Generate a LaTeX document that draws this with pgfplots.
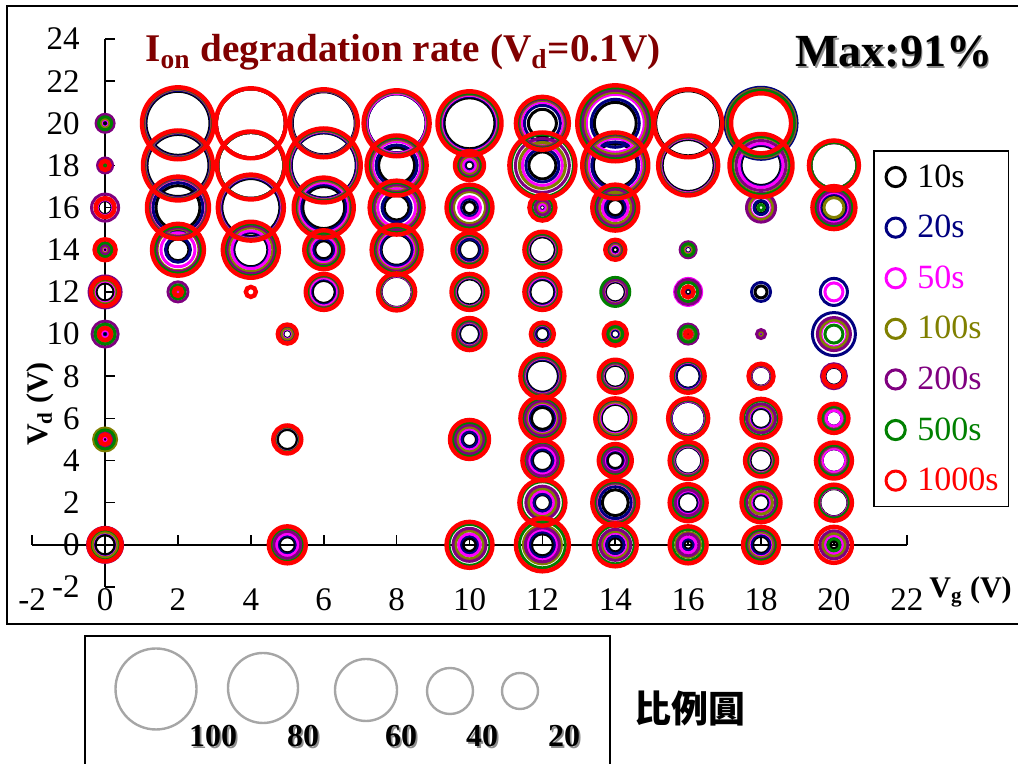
\documentclass[border=0pt]{standalone}
\usepackage{pgfplots}
\pgfplotsset{compat=1.18}
\usepackage{pgfplotstable}
\usepackage{fontspec}
\setmainfont{Liberation Serif}
\newfontfamily\cjk{Noto Sans CJK TC}
\definecolor{cnavy}{RGB}{0,0,128}
\definecolor{cmag}{RGB}{255,0,255}
\definecolor{colive}{RGB}{128,128,0}
\definecolor{cpurp}{RGB}{128,0,128}
\definecolor{cgreen}{RGB}{0,128,0}
\definecolor{cred}{RGB}{255,0,0}
\definecolor{maroon}{RGB}{128,0,0}

% ring radii (px) for 10s(a) 20s(b) 50s(c) 100s(d) 200s(e) 500s(f) 1000s(g)
\pgfplotstableread{
x y a b c d e f g
0 20 3 3.5 4 5 9 6.5 0
0 18 1 1 1 1.5 7.5 2 4.5
0 16 7 8 8 9 13.5 9 9.5
0 14 2 3 3 4 5 7 10.5
0 12 9 11 11 12 16 13 14
0 10 2 3 4 8 13 10 6
0 5 2 3 3 11.5 8 9.5 5
0 0 10 12 12.5 13 17.5 15 16.5
2 20 32 33 34 34 34.5 35 36
2 18 31 32 33 33 33.5 34 35
2 16 22 25 28 28.5 29 30 31
2 14 11 12.5 17 21 22 23.5 26
2 12 1 1.5 2 3 10 7 4
4 20 34.5 34.5 34.5 34.5 34.5 34.5 35
4 18 33 33 33 33 33 33 34
4 16 29 30 31 31.5 32 32.5 33
4 14 17 18 19 22 24 26 28
4 12 0 0 0 0 0 0 5
5 10 4.5 5 5.5 6 8 8.5 9.5
5 5 10 12 12.5 12.5 13 13 14
5 0 8 9.5 11 15 13.5 16.5 18.5
6 20 31.5 32 32.5 32.5 32.5 33 34
6 18 32.5 33 34 34.5 35 35.5 37
6 16 21 23 25 27 28 28.5 30
6 14 9 11 13 15 16 17 19.5
6 12 11.5 13 14 15.5 16 16.5 18
8 20 29.5 29.5 30 31 31.5 32 33
8 18 18 20.5 24 26 27 28 30
8 16 12.5 14.5 19 22 23 25 27
8 14 15.5 16.5 18.5 20 21.5 23 25
8 12 15.5 16 16 16.5 16.5 17 18.5
10 20 25.5 27 28 29 29.5 30 32
10 18 4.5 5.5 6.5 9 11 12.5 14.5
10 16 6 9 11 16 18 20.5 23
10 14 10 11 13.5 14 14.5 15 17
10 12 13 14 14.5 15 15.5 16 18
10 10 10 11 12 12.5 13 14 16
10 5 7 8 10.5 12.5 14.5 17 19.5
10 0 6.5 9 11 14 16.5 20.5 23
12 20 14 18 21 23 24 25 26.5
12 18 13.5 16.5 20 23 27 31 33
12 16 3 3.5 4 6 7.5 10.5 13
12 14 13 14 14.5 15 15.5 16 18
12 12 12.5 13.5 14.5 15.5 16 16.5 18
12 10 6.5 7.5 9 9.5 9.5 10 11.5
12 8 16 17 18 18.5 19 20 22
12 6 11 13.5 15 16 17.5 20 22
12 4 10 11.5 13.5 17.5 15.5 18.5 20
12 2 8 9 11.5 14 16.5 21 23
12 0 11 13 15 19 17 23 26.5
14 20 21 24 29 31 33 35.5 38
14 18 22 23.5 27 29 30.5 31.5 33
14 16 8 10.5 13 16 18.5 21 23
14 14 3 4.5 5.5 6.5 7.5 8.5 10
14 12 10 11 11.5 12 12.5 14.5 0
14 10 4.5 5 6 6.5 8.5 7.5 11.5
14 8 11 12 12.5 13 13.5 14.5 16.5
14 6 14 15 15.5 16.5 18 18.5 20
14 4 8 10 11 13 12 14.5 16.5
14 2 13 16 19 19.5 20 21 23
14 0 7 9 12 13.5 15.5 19 21.5
16 20 32.5 33.5 33.5 33.5 33.5 33.5 34
16 18 26 27 27.5 28 28.5 29 30
16 14 3.5 4 4.5 5 8 6 0
16 12 3 4 13.5 11 12.5 9.5 5.5
16 10 2 5.5 4 7 10 8 3
16 8 12 12.5 14 14.5 14.5 15 16.5
16 6 17 17 17.5 18 18 18.5 20
16 4 13.5 14 14.5 15 15.5 16.5 18.5
16 2 10 11 12 14 13 16 18.5
16 0 4.5 6 8 12.5 11 15.5 18.5
18 20 35.5 36 34 34.5 33.5 33 30
18 18 20 21 22 28 25 29 31.5
18 16 6 7 11 12 14.5 3 0
18 12 6 9.5 0 0 0 0 0
18 10 1.5 2 2.5 3 4.5 0 0
18 8 10 10.5 10.5 11 11 11.5 12.5
18 6 10 11 12 13 14.5 17.5 19.5
18 4 11 12 12.5 13 13.5 14 16
18 2 8 9 10 11.5 14.5 17 19.5
18 0 8.5 10 12 13 14.5 15.5 18
20 18 23 23 23 23 23 23 25
20 16 12 13.5 15 10 16.5 19 21.5
20 12 0 13.5 9 0 0 0 0
20 10 0 21.5 13 14 16.5 9 0
20 8 9 9.5 10 10.5 12.5 11 10.5
20 6 8 8 8 11 11.5 12 14.5
20 4 12 12 12 14 14.5 15.5 18
20 2 14 14.5 14.5 15 15 15.5 18
20 0 4 8 9 11.5 14 6 18
}\rings

\pgfplotstableread{
x y r
156 75 40.5
263 76 35
366 74 31
450 73 23
520 73 18
}\scalecircles

\pgfplotsset{
  ring/.style n args={3}{%
    scatter, only marks, mark=o,
    mark options={line width=#3},
    scatter/use mapped color={draw=#2, fill=none},
    visualization depends on={0.5*\thisrow{#1} \as \ringrad},
    scatter/@pre marker code/.append style={/tikz/mark size=\ringrad},
    restrict expr to domain={\thisrow{#1}}{0.1:1000},
    legend image code/.code={\draw[line width=1.5pt,draw=#2] (0pt,0pt) circle (4.8pt); \path (-5.5pt,0pt) (10.5pt,0pt);},
  },
}

\begin{document}
\begin{tikzpicture}
\useasboundingbox (0,0) rectangle (509pt,382pt);
\draw[line width=1pt] (510pt,379pt) -- (3.5pt,379pt) -- (3.5pt,70pt) -- (510pt,70pt);
\begin{axis}[
  at={(16.1pt,88.5pt)}, anchor=south west,
  scale only axis, width=437.3pt, height=274pt,
  xmin=-2, xmax=22, ymin=-2, ymax=24,
  axis lines=middle, axis line style={-, line width=0.8pt},
  xtick={-2,0,...,22}, ytick={-2,0,...,24},
  tick align=inside, major tick length=5pt, tick style={line width=0.8pt, black},
  hide obscured x ticks=false, hide obscured y ticks=false,
  /pgf/number format/assume math mode=true,
  tick label style={font=\fontsize{16.5}{18}\selectfont},
  xticklabel style={anchor=center, inner sep=0pt, yshift=-27.5pt},
  yticklabel style={anchor=east, inner sep=0pt, xshift=-12.5pt},
  clip=false,
  legend cell align=left,
  legend style={at={(0.9614,0.797)}, anchor=north west, draw=black, line width=0.8pt,
    inner xsep=5pt, inner ysep=6.5pt, row sep=12.3pt,
    font=\fontsize{17}{19}\selectfont,
    nodes={inner sep=0pt, text height=11.5pt, text depth=1.5pt}},
]
\addplot[ring={a}{black}{1.5pt}] table[x=x,y=y]{\rings};
\addlegendentry{\textcolor{black}{10s}}
\addplot[ring={b}{cnavy}{1.5pt}] table[x=x,y=y]{\rings};
\addlegendentry{\textcolor{cnavy}{20s}}
\addplot[ring={c}{cmag}{1.5pt}] table[x=x,y=y]{\rings};
\addlegendentry{\textcolor{cmag}{50s}}
\addplot[ring={d}{colive}{1.5pt}] table[x=x,y=y]{\rings};
\addlegendentry{\textcolor{colive}{100s}}
\addplot[ring={e}{cpurp}{1.5pt}] table[x=x,y=y]{\rings};
\addlegendentry{\textcolor{cpurp}{200s}}
\addplot[ring={f}{cgreen}{1.5pt}] table[x=x,y=y]{\rings};
\addlegendentry{\textcolor{cgreen}{500s}}
\addplot[ring={g}{cred}{2.2pt}] table[x=x,y=y]{\rings};
\addlegendentry{\textcolor{cred}{1000s}}
\end{axis}

% scale legend circles
\begin{axis}[at={(0pt,0pt)}, anchor=south west, scale only axis, width=509pt, height=382pt,
  xmin=0, xmax=1018, ymin=0, ymax=764, hide axis, clip=false]
\addplot[scatter, only marks, mark=o, mark options={line width=1.2pt},
  scatter/use mapped color={draw=black!35, fill=none},
  visualization depends on={0.5*\thisrow{r} \as \ringrad},
  scatter/@pre marker code/.append style={/tikz/mark size=\ringrad}]
  table[x=x,y=y]{\scalecircles};
\end{axis}

\node[anchor=base west, inner sep=0pt, text=maroon, font=\fontsize{19.6}{24}\selectfont\bfseries] at (72.5pt,351pt)
  {I\textsubscript{on} degradation rate (V\textsubscript{d}=0.1V)};
\node[anchor=base west, inner sep=0pt, text=black!45, font=\fontsize{23}{28}\selectfont\bfseries] at (398.4pt,347.6pt) {Max:91\%};
\node[anchor=base west, inner sep=0pt, text=black, font=\fontsize{23}{28}\selectfont\bfseries] at (397.5pt,348.5pt) {Max:91\%};
\node[rotate=90, font=\fontsize{15}{18}\selectfont\bfseries] at (20pt,180pt) {V\textsubscript{d} (V)};
\node[anchor=base west, inner sep=0pt, font=\fontsize{15}{18}\selectfont\bfseries] at (464.5pt,83pt) {V\textsubscript{g} (V)};

% scale box
\draw[line width=1.2pt] (42.5pt,-1pt) -- (42.5pt,64pt) -- (305pt,64pt) -- (305pt,-1pt);
\foreach \xx/\lab in {106.5/100, 151.5/80, 200.5/60, 241/40, 282/20}{
  \node[text=black!45, font=\fontsize{16}{19}\selectfont\bfseries] at (\xx pt+0.9pt,13.1pt) {\lab};
  \node[text=black, font=\fontsize{16}{19}\selectfont\bfseries] at (\xx pt,14pt) {\lab};
}
\node[font=\cjk\bfseries\fontsize{18.5}{22}\selectfont] at (345pt,27.5pt) {比例圓};
\end{tikzpicture}
\end{document}
